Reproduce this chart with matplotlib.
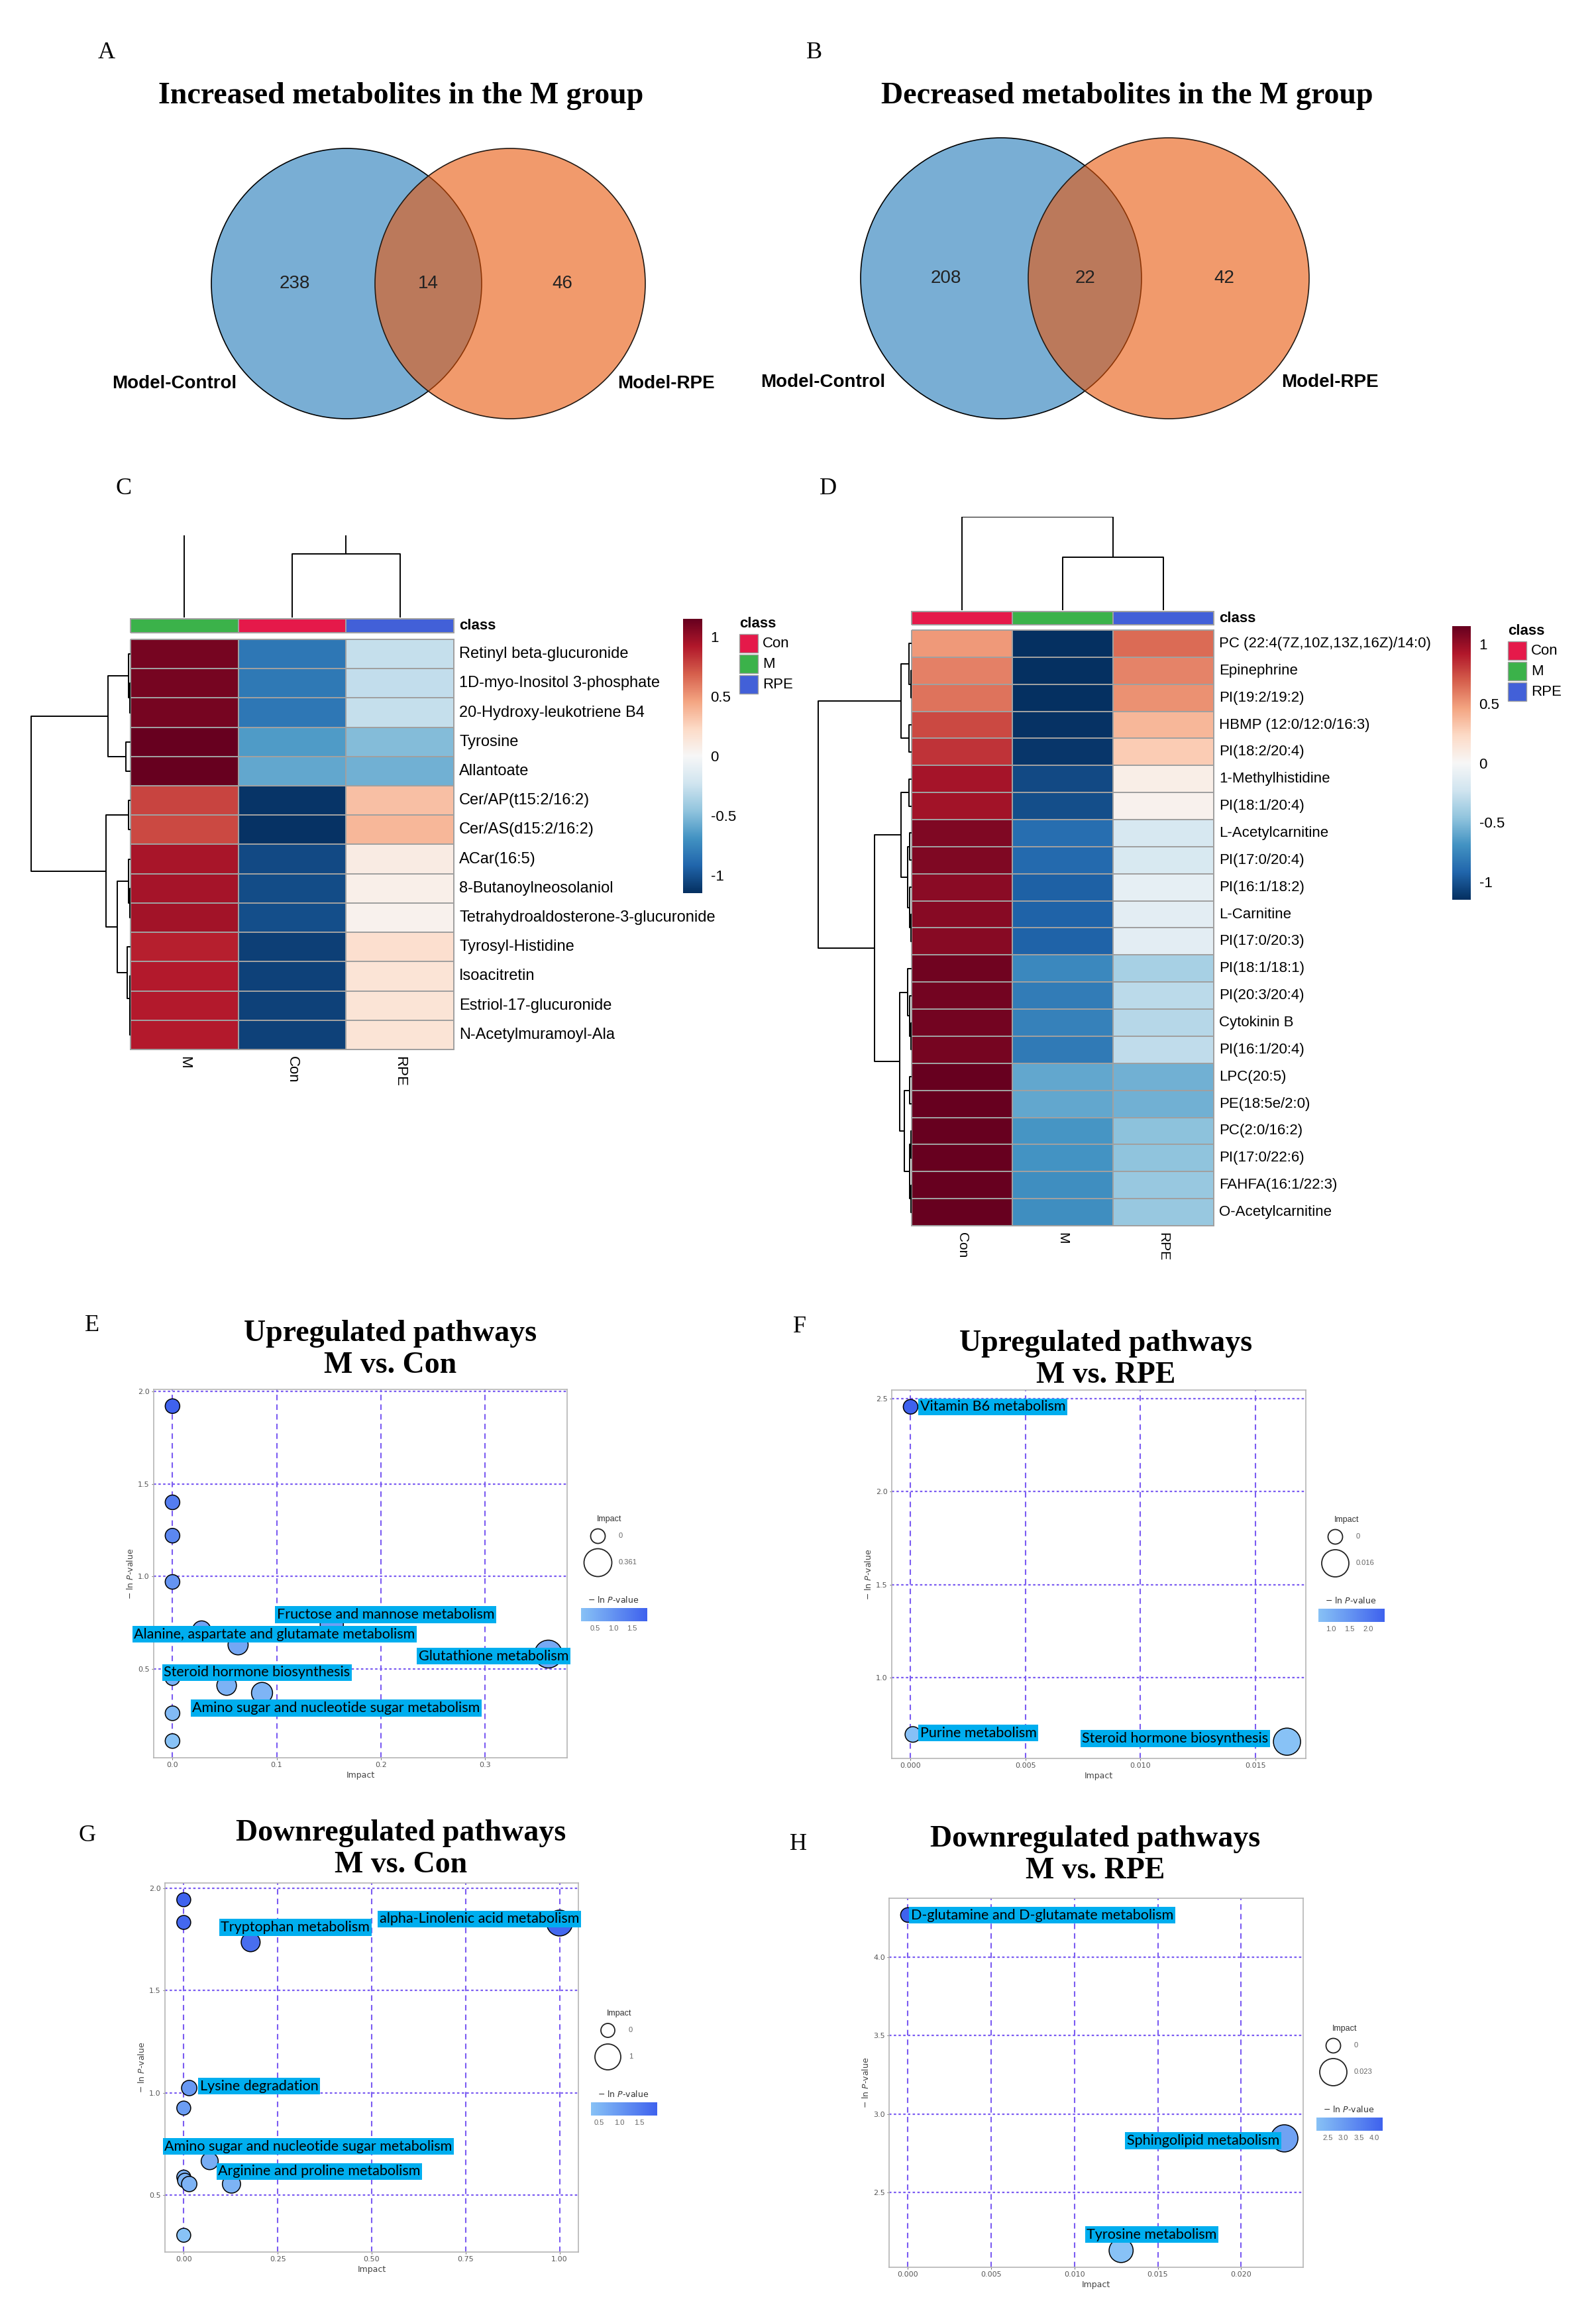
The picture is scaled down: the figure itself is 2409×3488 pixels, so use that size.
import numpy as np
import matplotlib

matplotlib.use("Agg")
import matplotlib.pyplot as plt
from matplotlib.colors import LinearSegmentedColormap, ListedColormap, Normalize
from matplotlib.patches import Circle, Rectangle

W, H, DPI = 2409, 3488, 100
SANS = ["Liberation Sans", "DejaVu Sans"]
SERIF = ["Liberation Serif", "DejaVu Serif"]
LABEL_FONT = ["Lato", "DejaVu Sans"]

# ---------------- data ----------------
venn_sets = ["Model-Control", "Model-RPE"]
venn_increased = [238, 14, 46]  # only Model-Control, shared, only Model-RPE
venn_decreased = [208, 22, 42]

group_colors = {"Con": "#E5194A", "M": "#3BB24A", "RPE": "#4260D8"}
legend_groups = ["Con", "M", "RPE"]

# panel C: row z-scores, columns in c_groups order
c_groups = ["M", "Con", "RPE"]
c_metabolites = [
    "Retinyl beta-glucuronide", "1D-myo-Inositol 3-phosphate", "20-Hydroxy-leukotriene B4",
    "Tyrosine", "Allantoate", "Cer/AP(t15:2/16:2)", "Cer/AS(d15:2/16:2)", "ACar(16:5)",
    "8-Butanoylneosolaniol", "Tetrahydroaldosterone-3-glucuronide", "Tyrosyl-Histidine",
    "Isoacitretin", "Estriol-17-glucuronide", "N-Acetylmuramoyl-Ala",
]
c_zscores = np.array([
    [1.10, -0.83, -0.27],
    [1.10, -0.82, -0.28],
    [1.10, -0.83, -0.27],
    [1.15, -0.65, -0.50],
    [1.15, -0.60, -0.55],
    [0.78, -1.13, 0.35],
    [0.76, -1.14, 0.38],
    [0.95, -1.04, 0.09],
    [0.96, -1.03, 0.07],
    [0.97, -1.02, 0.05],
    [0.89, -1.08, 0.19],
    [0.91, -1.07, 0.16],
    [0.91, -1.07, 0.16],
    [0.91, -1.07, 0.16],
])
# dendrograms as nested (left, right, height)
c_row_tree = (((0, (1, 2, 0.01), 0.02), (3, 4, 0.05), 0.23),
              ((5, 6, 0.02),
               ((7, (8, 9, 0.01), 0.02), (10, (11, (12, 13, 0.005), 0.01), 0.035), 0.133),
               0.245),
              1.0)
c_col_tree = ((1, 2, 1.0), 0, 2.5)

# panel D
d_groups = ["Con", "M", "RPE"]
d_metabolites = [
    "PC (22:4(7Z,10Z,13Z,16Z)/14:0)", "Epinephrine", "PI(19:2/19:2)", "HBMP (12:0/12:0/16:3)",
    "PI(18:2/20:4)", "1-Methylhistidine", "PI(18:1/20:4)", "L-Acetylcarnitine", "PI(17:0/20:4)",
    "PI(16:1/18:2)", "L-Carnitine", "PI(17:0/20:3)", "PI(18:1/18:1)", "PI(20:3/20:4)",
    "Cytokinin B", "PI(16:1/20:4)", "LPC(20:5)", "PE(18:5e/2:0)", "PC(2:0/16:2)",
    "PI(17:0/22:6)", "FAHFA(16:1/22:3)", "O-Acetylcarnitine",
]
d_zscores = np.array([
    [0.50, -1.15, 0.65],
    [0.58, -1.15, 0.57],
    [0.62, -1.15, 0.53],
    [0.76, -1.14, 0.38],
    [0.83, -1.12, 0.29],
    [0.96, -1.04, 0.08],
    [0.97, -1.02, 0.05],
    [1.07, -0.88, -0.19],
    [1.07, -0.89, -0.18],
    [1.04, -0.94, -0.10],
    [1.05, -0.93, -0.12],
    [1.05, -0.93, -0.12],
    [1.12, -0.74, -0.38],
    [1.11, -0.80, -0.31],
    [1.11, -0.78, -0.33],
    [1.10, -0.81, -0.29],
    [1.15, -0.60, -0.55],
    [1.15, -0.60, -0.55],
    [1.15, -0.68, -0.47],
    [1.15, -0.69, -0.46],
    [1.15, -0.71, -0.44],
    [1.15, -0.71, -0.44],
])
d_row_tree = (((0, (1, 2, 0.01), 0.03), (3, 4, 0.03), 0.11),
              (((5, 6, 0.03), ((7, 8, 0.02), (9, (10, 11, 0.01), 0.02), 0.045), 0.11),
               ((12, (13, (14, 15, 0.01), 0.02), 0.04),
                ((16, 17, 0.02), ((18, 19, 0.01), (20, 21, 0.01), 0.02), 0.075), 0.13),
               0.40),
              1.0)
d_col_tree = (0, (1, 2, 0.57), 1.0)

# pathway bubble plots: impact, -ln P
e_impact = [0, 0, 0, 0, 0.028, 0.153, 0.063, 0.361, 0, 0.052, 0.086, 0, 0]
e_nlp = [1.92, 1.40, 1.22, 0.97, 0.71, 0.74, 0.63, 0.58, 0.45, 0.41, 0.37, 0.26, 0.11]
e_labels = ["Fructose and mannose metabolism", "Alanine, aspartate and glutamate metabolism",
            "Glutathione metabolism", "Steroid hormone biosynthesis",
            "Amino sugar and nucleotide sugar metabolism"]

f_impact = [0, 0.0001, 0.01638]
f_nlp = [2.457, 0.693, 0.654]
f_labels = ["Vitamin B6 metabolism", "Purine metabolism", "Steroid hormone biosynthesis"]

g_impact = [0, 0, 0.178, 1.0, 0.0145, 0, 0.069, 0, 0.003, 0.0145, 0.127, 0]
g_nlp = [1.945, 1.834, 1.737, 1.831, 1.023, 0.925, 0.665, 0.587, 0.570, 0.553, 0.553, 0.302]
g_labels = ["Tryptophan metabolism", "alpha-Linolenic acid metabolism", "Lysine degradation",
            "Amino sugar and nucleotide sugar metabolism", "Arginine and proline metabolism"]

h_impact = [0, 0.0226, 0.0128]
h_nlp = [4.267, 2.845, 2.131]
h_labels = ["D-glutamine and D-glutamate metabolism", "Sphingolipid metabolism",
            "Tyrosine metabolism"]

# ---------------- layout (label box anchors: left edge, centre, data units) ----------------
e_label_at = [(0.0985, 0.793), (-0.0388, 0.686), (0.2346, 0.569), (-0.0102, 0.481), (0.0172, 0.288)]
f_label_at = [(0.00034, 2.457), (0.00034, 0.700), (0.00738, 0.671)]
g_label_at = [(0.0937, 1.810), (0.516, 1.851), (0.0382, 1.0325), (-0.056, 0.737), (0.0866, 0.615)]
h_label_at = [(0.00006, 4.265), (0.01304, 2.830), (0.01062, 2.233)]

bubble_cmap = LinearSegmentedColormap.from_list("nlp", ["#88C2F6", "#3F62EE"])
heat_cmap = plt.get_cmap("RdBu_r")

fig = plt.figure(figsize=(W / DPI, H / DPI), dpi=DPI)
canvas = fig.add_axes([0, 0, 1, 1])
canvas.set_xlim(0, W)
canvas.set_ylim(H, 0)
canvas.axis("off")


def px_axes(x0, y0, x1, y1):
    return fig.add_axes([x0 / W, 1 - y1 / H, (x1 - x0) / W, (y1 - y0) / H])


def letter(x, y, s):
    canvas.text(x, y, s, fontsize=26, family=SERIF, ha="center", va="center")


# ---------------- Venn A / B ----------------
def venn(cx, cy, r, sep, counts, title, tx, ty):
    canvas.add_patch(Circle((cx - sep / 2, cy), r, fc="#79AED4", ec="black", lw=1.2, zorder=1))
    canvas.add_patch(Circle((cx + sep / 2, cy), r, fc="#E8570A", ec="none", alpha=0.6, zorder=2))
    canvas.add_patch(Circle((cx + sep / 2, cy), r, fill=False, ec="#231a14", lw=1.2, zorder=3))
    for dx, n in zip([-0.99 * r, 0, 0.99 * r], counts):
        canvas.text(cx + dx, cy, str(n), fontsize=20, family=SANS, color="#222222",
                    ha="center", va="center", zorder=4)
    canvas.text(cx - 1.42 * r, cy + 0.74 * r, venn_sets[0], fontsize=20, family=SANS,
                weight="bold", ha="right", va="center")
    canvas.text(cx + 1.40 * r, cy + 0.74 * r, venn_sets[1], fontsize=20, family=SANS,
                weight="bold", ha="left", va="center")
    canvas.text(tx, ty, title, fontsize=33, family=SERIF, weight="bold",
                ha="center", va="center")


letter(161, 80, "A")
letter(1229, 80, "B")
venn(646.5, 428, 204, 247, venn_increased, "Increased metabolites in the M group", 605, 145)
venn(1637.5, 420, 212, 253, venn_decreased, "Decreased metabolites in the M group", 1701, 145)


# ---------------- heatmaps C / D ----------------
def draw_tree(ax, node, vertical):
    if isinstance(node, int):
        return node + 0.5, 0.0
    a, b, h = node
    pa, ha = draw_tree(ax, a, vertical)
    pb, hb = draw_tree(ax, b, vertical)
    pos, hts = [pa, pa, pb, pb], [ha, h, h, hb]
    if vertical:
        ax.plot(pos, hts, color="black", lw=1.4, solid_capstyle="butt")
    else:
        ax.plot(hts, pos, color="black", lw=1.4, solid_capstyle="butt")
    return (pa + pb) / 2, h


def heatmap(values, groups, names, row_tree, col_tree, box, bar, row_dend_left, col_dend,
            col_ylim, cbar, legend_xy, fs):
    left, top, right, bottom = box
    nrow, ncol = values.shape
    lim = np.abs(values).max()

    ax = px_axes(left, top, right, bottom)
    mesh = ax.pcolormesh(values, cmap=heat_cmap, vmin=-lim, vmax=lim,
                         edgecolors="#A0A0A0", linewidth=1.1)
    mesh.set_clip_on(False)
    ax.set_xlim(0, ncol)
    ax.set_ylim(nrow, 0)
    ax.axis("off")

    bax = px_axes(left, bar[0], right, bar[1])
    cmesh = bax.pcolormesh([list(range(ncol))], cmap=ListedColormap([group_colors[g] for g in groups]),
                           edgecolors="#A0A0A0", linewidth=1.1)
    cmesh.set_clip_on(False)
    bax.set_xlim(0, ncol)
    bax.axis("off")

    rax = px_axes(row_dend_left, top, left, bottom)
    draw_tree(rax, row_tree, vertical=False)
    rax.set_xlim(row_tree[2], 0)
    rax.set_ylim(nrow, 0)
    for ln in rax.lines:
        ln.set_clip_on(False)
    rax.axis("off")

    cax = px_axes(left, col_dend, right, bar[0] - 2)
    draw_tree(cax, col_tree, vertical=True)
    cax.set_xlim(0, ncol)
    cax.set_ylim(0, col_ylim)
    cax.axis("off")

    rowh = (bottom - top) / nrow
    colw = (right - left) / ncol
    for i, name in enumerate(names):
        canvas.text(right + 8, top + (i + 0.5) * rowh, name, fontsize=fs, family=SANS,
                    ha="left", va="center")
    for j, g in enumerate(groups):
        canvas.text(left + (j + 0.5) * colw, bottom + 10, g, fontsize=fs - 1, family=SANS,
                    rotation=-90, ha="center", va="top")
    canvas.text(right + 8, (bar[0] + bar[1]) / 2, "class", fontsize=16, family=SANS,
                weight="bold", ha="left", va="center")

    kx0, ky0, kx1, ky1 = cbar
    kax = px_axes(kx0, ky0, kx1, ky1)
    kax.imshow(np.linspace(lim, -lim, 256)[:, None], cmap=heat_cmap, vmin=-lim, vmax=lim,
               extent=[0, 1, -lim, lim], aspect="auto")
    kax.set_ylim(-lim, lim)
    kax.set_xticks([])
    kax.yaxis.tick_right()
    ticks = [-1, -0.5, 0, 0.5, 1]
    kax.set_yticks(ticks)
    kax.set_yticklabels([f"{t:g}" for t in ticks], fontsize=16, family=SANS)
    kax.tick_params(length=0, pad=9)
    for sp in kax.spines.values():
        sp.set_visible(False)

    lx, ly = legend_xy
    canvas.text(lx, ly, "class", fontsize=16, family=SANS, weight="bold", ha="left", va="center")
    for k, g in enumerate(legend_groups):
        y0 = ly + 16 + k * 31
        canvas.add_patch(Rectangle((lx, y0), 28, 28, fc=group_colors[g], ec="#A0A0A0", lw=1.0))
        canvas.text(lx + 35, y0 + 14, g, fontsize=16, family=SANS, ha="left", va="center")


letter(187, 738, "C")
letter(1250, 738, "D")
heatmap(c_zscores, c_groups, c_metabolites, c_row_tree, c_col_tree,
        (197, 965, 685, 1584), (934, 955), 47, 808, (932 - 808) / 96,
        (1031, 934, 1060, 1348), (1116, 941), 17)
heatmap(d_zscores, d_groups, d_metabolites, d_row_tree, d_col_tree,
        (1376, 951, 1832, 1850), (923, 943), 1235, 780, 1.0,
        (2192, 945, 2220, 1358), (2276, 952), 16)


# ---------------- pathway bubble plots E-H ----------------
def bubble(rect, impact, nlp, labels, label_at, xticks, xfmt, yticks, rmin, rmax, leg, title, title_xy):
    impact = np.asarray(impact, float)
    nlp = np.asarray(nlp, float)
    ax = px_axes(*rect)
    xr = impact.max() - impact.min()
    yr = nlp.max() - nlp.min()
    ax.set_xlim(impact.min() - 0.05 * xr, impact.max() + 0.05 * xr)
    ax.set_ylim(nlp.min() - 0.05 * yr, nlp.max() + 0.05 * yr)
    norm = Normalize(nlp.min(), nlp.max())
    radius = rmin + (rmax - rmin) * np.sqrt(impact / impact.max())
    ax.scatter(impact, nlp, s=(2 * radius * 72 / DPI) ** 2, c=nlp, cmap=bubble_cmap, norm=norm,
               edgecolors="black", linewidths=1.1, zorder=3, clip_on=False)
    ax.set_xticks(xticks)
    ax.set_xticklabels([xfmt % t for t in xticks])
    ax.set_yticks(yticks)
    ax.set_yticklabels(["%.1f" % t for t in yticks])
    ax.tick_params(labelsize=8, labelcolor="#555555", color="#777777", length=2.5, width=0.8, pad=2)
    ax.set_axisbelow(True)
    ax.xaxis.grid(True, color="#7B5CF2", linestyle=(0, (4, 3)), linewidth=1.5)
    ax.yaxis.grid(True, color="#7B5CF2", linestyle=(0, (1.6, 1.6)), linewidth=1.6)
    for sp in ax.spines.values():
        sp.set_color("#B5B5B5")
        sp.set_linewidth(1.2)
    ax.set_xlabel("Impact", fontsize=9, color="#444444", labelpad=3)
    ax.set_ylabel(r"$-$ ln $\mathit{P}$-value", fontsize=9, color="#444444", labelpad=3)
    for name, (lx, ly) in zip(labels, label_at):
        ax.annotate(name, (lx, ly), xytext=(2, 0), textcoords="offset points", ha="left",
                    va="center", fontsize=15.5, family=LABEL_FONT, color="black", zorder=6,
                    annotation_clip=False,
                    bbox=dict(boxstyle="square,pad=0.12", fc="#00AEEF", ec="none"))

    # legends
    cx, ty = leg
    tc = "#333333"
    canvas.text(cx + 18, ty, "Impact", fontsize=9, family=SANS, color=tc, ha="center", va="center")
    vmax_lab = f"{impact.max():.3f}".rstrip("0").rstrip(".")
    for dy, r, lab in [(25, rmin, "0"), (65, rmax, vmax_lab)]:
        canvas.scatter([cx], [ty + dy], s=(2 * r * 72 / DPI) ** 2, facecolors="white",
                       edgecolors="#222222", linewidths=1.3)
        canvas.text(cx + 32, ty + dy, lab, fontsize=8, family=SANS, color="#666666",
                    ha="left", va="center")
    canvas.text(cx + 24, ty + 122, r"$-$ ln $\mathit{P}$-value", fontsize=9, color=tc,
                ha="center", va="center")
    bx0, bx1, by0, by1 = cx - 25, cx + 75, ty + 134, ty + 154
    canvas.imshow(np.linspace(0, 1, 256)[None, :], cmap=bubble_cmap, aspect="auto",
                  extent=[bx0, bx1, by1, by0])
    for t in np.arange(np.ceil(nlp.min() * 2) / 2, nlp.max() + 1e-9, 0.5):
        x = bx0 + (t - nlp.min()) / (nlp.max() - nlp.min()) * (bx1 - bx0)
        canvas.text(x, ty + 165, f"{t:.1f}", fontsize=8, family=SANS, color="#666666",
                    ha="center", va="center")
    canvas.text(title_xy[0], title_xy[1], title, fontsize=33, family=SERIF, weight="bold",
                ha="center", va="center", linespacing=1.2)


letter(139, 2000, "E")
letter(1207, 2002, "F")
letter(132, 2770, "G")
letter(1205, 2783, "H")
bubble((232, 2097, 856, 2653), e_impact, e_nlp, e_labels, e_label_at,
       [0, 0.1, 0.2, 0.3], "%.1f", [0.5, 1.0, 1.5, 2.0], 11, 21, (902, 2293),
       "Upregulated pathways\nM vs. Con", (589, 2037))
bubble((1346, 2098, 1971, 2654), f_impact, f_nlp, f_labels, f_label_at,
       [0, 0.005, 0.010, 0.015], "%.3f", [1.0, 1.5, 2.0, 2.5], 11, 20.5, (2015, 2294),
       "Upregulated pathways\nM vs. RPE", (1669, 2052))
bubble((249, 2842, 873, 3399), g_impact, g_nlp, g_labels, g_label_at,
       [0, 0.25, 0.5, 0.75, 1.0], "%.2f", [0.5, 1.0, 1.5, 2.0], 10.5, 19.5, (917, 3039),
       "Downregulated pathways\nM vs. Con", (605, 2791))
bubble((1342, 2865, 1967, 3422), h_impact, h_nlp, h_labels, h_label_at,
       [0, 0.005, 0.010, 0.015, 0.020], "%.3f", [2.5, 3.0, 3.5, 4.0], 11, 20.5, (2012, 3062),
       "Downregulated pathways\nM vs. RPE", (1653, 2800))

canvas.set_xlim(0, W)
canvas.set_ylim(H, 0)
fig.savefig("out.png", dpi=DPI)
